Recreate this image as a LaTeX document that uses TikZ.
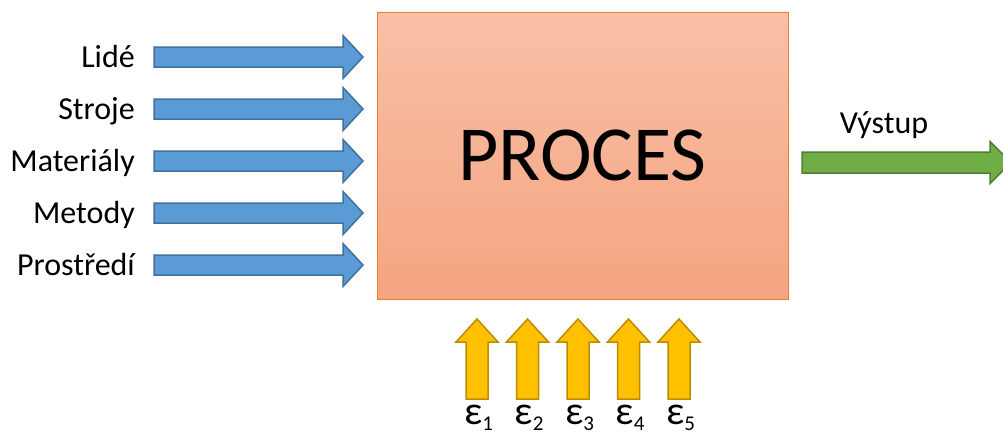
\documentclass[tikz,border=0pt]{standalone}
\usepackage{fontspec}
\setmainfont{Carlito}
\definecolor{boxtop}{RGB}{248,192,167}
\definecolor{boxbottom}{RGB}{245,164,128}
\definecolor{boxedge}{RGB}{237,125,49}
\definecolor{inblue}{RGB}{91,155,213}
\definecolor{inblueedge}{RGB}{65,113,156}
\definecolor{outgreen}{RGB}{112,173,71}
\definecolor{outgreenedge}{RGB}{80,126,50}
\definecolor{noiseyellow}{RGB}{255,192,0}
\definecolor{noiseyellowedge}{RGB}{188,140,0}
\tikzset{
  % block arrow along +x: {length}{shaft half-width}{head half-width}{head length}
  pics/blockarrow/.style n args={4}{code={
    \path[pic actions] (0,{-#2}) -- ({#1-#4},{-#2}) -- ({#1-#4},{-#3}) -- (#1,0)
      -- ({#1-#4},#3) -- ({#1-#4},#2) -- (0,#2) -- cycle;
  }},
  inputarrow/.style={draw=inblueedge, fill=inblue, line width=1.5pt},
  outputarrow/.style={draw=outgreenedge, fill=outgreen, line width=1.5pt},
  noisearrow/.style={draw=noiseyellowedge, fill=noiseyellow, line width=1.5pt},
  inlabel/.style={anchor=base east, inner sep=0pt, font=\fontsize{32}{32}\selectfont},
  noiselabel/.style={anchor=base, inner sep=0pt, font=\fontsize{40}{40}\selectfont},
}
\newcommand{\noisesub}[1]{\raisebox{-6pt}{\fontsize{21}{21}\selectfont #1}}
\begin{document}
\begin{tikzpicture}[x=1pt,y=-1pt]
\useasboundingbox (0,0) rectangle (1003,434);
\clip (0,0) rectangle (1003,434);

% the process block
\node[draw=boxedge, line width=1pt, top color=boxtop, bottom color=boxbottom,
      minimum width=411pt, minimum height=287pt, inner sep=0pt,
      font=\fontsize{78}{78}\selectfont] (proc) at (582.5,155.5) {PROCES};

% inputs
\foreach \name/\txt/\y in {lide/Lidé/57, stroje/Stroje/109, materialy/Materiály/161,
                           metody/Metody/213, prostredi/Prostředí/265} {
  \node[inlabel] (\name) at (135,\y+10) {\txt};
  \pic[inputarrow] at (154,\y) {blockarrow={209}{10}{21.5}{20}};
}

% output
\pic[outputarrow] at (802,162.5) {blockarrow={209}{10.5}{21}{21}};
\node[anchor=base, inner sep=0pt, font=\fontsize{32}{32}\selectfont] (vystup) at (884,133) {Výstup};

% disturbances
\foreach \i/\x in {1/477, 2/527.5, 3/578, 4/628.5, 5/679} {
  \pic[noisearrow, rotate=90] at (\x,399) {blockarrow={80}{11}{21}{23}};
  \node[noiselabel] (eps\i) at (\x+1.5,424) {ε\noisesub{\i}};
}
\end{tikzpicture}
\end{document}
